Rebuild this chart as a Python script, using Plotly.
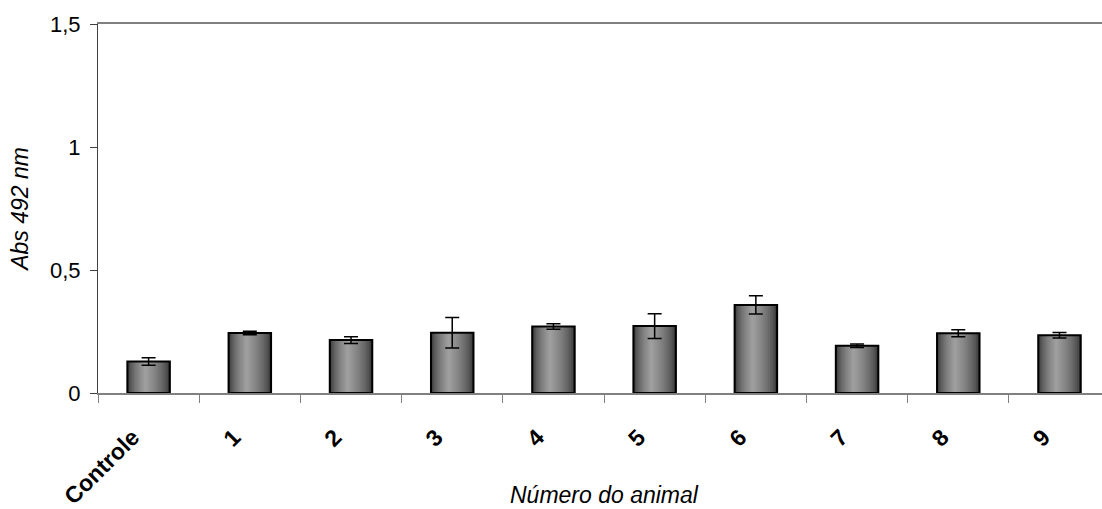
import plotly.graph_objects as go

categories = ["Controle", "1", "2", "3", "4", "5", "6", "7", "8", "9"]
values = [0.128, 0.244, 0.215, 0.245, 0.270, 0.272, 0.358, 0.192, 0.243, 0.235]
errors = [0.015, 0.007, 0.014, 0.062, 0.011, 0.050, 0.037, 0.007, 0.014, 0.011]
y_tickvals = [0, 0.5, 1, 1.5]
y_ticktext = ["0", "0,5", "1", "1,5"]

BAR_W = 0.42
fig = go.Figure()

# gradient layers (dark edges, light centre slightly left of middle)
n_layers = 14
centre_frac = 0.42
dark = (52, 52, 52)
light = (158, 158, 158)
for k in range(n_layers):
    f = 1 - k / n_layers
    t = k / (n_layers - 1)
    t = t ** 0.6
    col = tuple(int(dark[i] + (light[i] - dark[i]) * t) for i in range(3))
    width = BAR_W * f
    offset = -BAR_W / 2 + centre_frac * BAR_W - centre_frac * width
    fig.add_trace(go.Bar(
        x=categories, y=values, width=width, offset=offset,
        marker=dict(color="rgb(%d,%d,%d)" % col, line=dict(width=0)),
        hoverinfo="skip", showlegend=False,
    ))

# outline
fig.add_trace(go.Bar(
    x=categories, y=values, width=BAR_W, offset=-BAR_W / 2,
    marker=dict(color="rgba(0,0,0,0)", line=dict(color="black", width=2)),
    showlegend=False,
))

# error bars
fig.add_trace(go.Scatter(
    x=categories, y=values, mode="markers",
    marker=dict(size=1, color="rgba(0,0,0,0)"),
    error_y=dict(type="data", array=errors, visible=True, color="black",
                 thickness=1.5, width=7),
    showlegend=False, hoverinfo="skip",
))

fig.update_layout(
    width=1102, height=509,
    margin=dict(l=98, r=0, t=24, b=116),
    paper_bgcolor="white", plot_bgcolor="white",
    barmode="overlay",
    font=dict(family="Arial, Liberation Sans, sans-serif", color="black"),
    xaxis=dict(
        type="category", range=[-0.5, 9.42], automargin=False,
        tickson="boundaries", ticks="outside", ticklen=8, tickcolor="#808080",
        showline=True, linecolor="#808080", linewidth=1.5, mirror=True,
        showgrid=False, tickangle=-45,
        tickfont=dict(size=23, family="Arial, Liberation Sans, sans-serif", weight="bold"),
        ticklabelstandoff=20, ticklabelshift=-16,
    ),
    yaxis=dict(
        range=[0, 1.5], tickvals=y_tickvals, ticktext=y_ticktext, automargin=False,
        ticks="outside", ticklen=7, tickcolor="#404040",
        showline=True, linecolor="#404040", linewidth=1,
        showgrid=False, zeroline=False,
        tickfont=dict(size=22), ticklabelstandoff=5,
        title=dict(text="Abs 492 nm", font=dict(size=23, style="italic"), standoff=14),
    ),
    annotations=[dict(
        text="Número do animal", xref="paper", yref="paper",
        x=0.504, y=-0.276, xanchor="center", yanchor="middle", showarrow=False,
        font=dict(size=23, style="italic"),
    )],
)

fig.write_html("out.html")
